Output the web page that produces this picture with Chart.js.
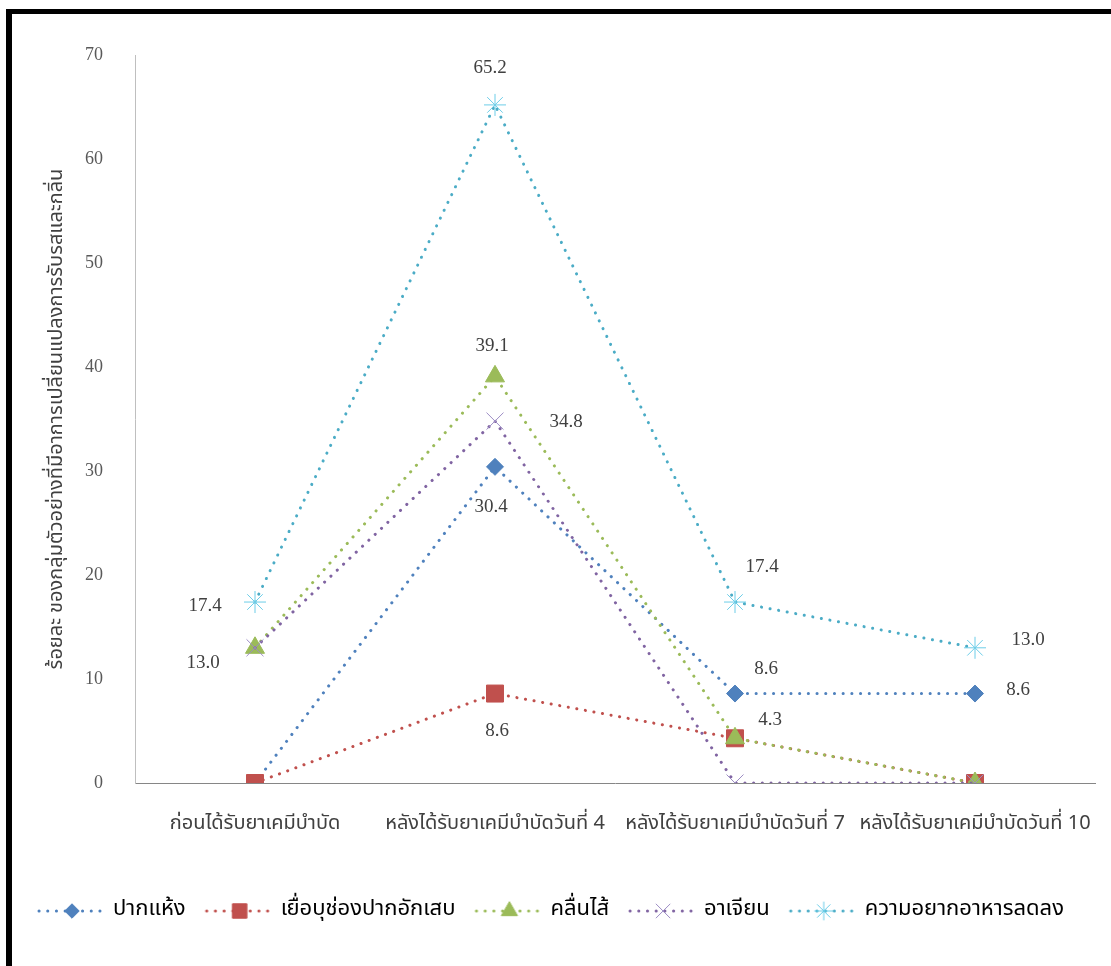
<!DOCTYPE html>
<html lang="th">
<head>
<meta charset="utf-8">
<title>อาการเปลี่ยนแปลงการรับรสและกลิ่น</title>
<script src="https://cdn.jsdelivr.net/npm/chart.js@4.4.1/dist/chart.umd.min.js"></script>
<style>
  html, body { margin: 0; padding: 0; background: #ffffff; }
  #frame { position: relative; width: 1111px; height: 966px; overflow: hidden; }
  #chart { position: absolute; left: 0; top: 0; }
  .edge { position: absolute; background: #000; }
  #edgeTop { left: 6px; top: 9px; width: 1105px; height: 5px; }
  #edgeLeft { left: 6px; top: 9px; width: 6px; height: 957px; }
</style>
</head>
<body>
<div id="frame">
  <canvas id="chart" width="1111" height="966"></canvas>
  <div class="edge" id="edgeTop"></div>
  <div class="edge" id="edgeLeft"></div>
</div>
<script>
// Time points after chemotherapy
const categories = [
  'ก่อนได้รับยาเคมีบำบัด',
  'หลังได้รับยาเคมีบำบัดวันที่ 4',
  'หลังได้รับยาเคมีบำบัดวันที่ 7',
  'หลังได้รับยาเคมีบำบัดวันที่ 10'
];

// Series names
const seriesNames = ['ปากแห้ง', 'เยื่อบุช่องปากอักเสบ', 'คลื่นไส้', 'อาเจียน', 'ความอยากอาหารลดลง'];

// Percentages per symptom (one value per time point)
const dryMouth    = [0, 30.4, 8.6, 8.6];
const mucositis   = [0, 8.6, 4.3, 0];
const nausea      = [13.0, 39.1, 4.3, 0];
const vomiting    = [13.0, 34.8, 0, 0];
const lowAppetite = [17.4, 65.2, 17.4, 13.0];

// Y axis ticks
const yTicks = [0, 10, 20, 30, 40, 50, 60, 70];

const yTitle = 'ร้อยละ ของกลุ่มตัวอย่างที่มีอาการเปลี่ยนแปลงการรับรสและกลิ่น';

const THAI = '"Noto Sans Thai", "Noto Serif Thai", "TH Sarabun New", Garuda, Loma, "Noto Sans", sans-serif';
const NUM = '"Liberation Serif", "Times New Roman", serif';

const seriesValues = [dryMouth, mucositis, nausea, vomiting, lowAppetite];
const seriesStyle = [
  { color: '#4F81BD', marker: 'rectRot',  radius: 8.5, markerLine: 1, fill: true },
  { color: '#C0504D', marker: 'rect',     radius: 12,  markerLine: 1, fill: true },
  { color: '#9BBB59', marker: 'triangle', radius: 11,  markerLine: 1, fill: true },
  { color: '#8064A2', marker: 'crossRot', radius: 12,  markerLine: 1, fill: false, markerColor: '#9C8CC4' },
  { color: '#4BACC6', marker: 'star',     radius: 11,  markerLine: 1, fill: false, markerColor: '#6CCDE8' }
];

const DOTS = [0.1, 8.6];

// Where each value label sits relative to its point (dx, dy); null = not labelled
const labelOffsets = [
  [null, [-4, 40], [31, -25], [43, -4]],
  [null, [2, 37], null, null],
  [[-52, 15], [-3, -30], [35, -18], null],
  [null, [71, 1], null, null],
  [[-50, 4], [-5, -37], [27, -35], [53, -8]]
];

// Legend swatch: dotted line with the series marker in the middle
function legendSwatch(style) {
  const c = document.createElement('canvas');
  c.width = 70; c.height = 26;
  const g = c.getContext('2d');
  g.strokeStyle = style.color;
  g.lineWidth = 3;
  g.lineCap = 'round';
  g.setLineDash(DOTS);
  g.beginPath(); g.moveTo(3, 13); g.lineTo(68, 13); g.stroke();
  g.setLineDash([]);
  g.lineCap = 'butt';
  g.lineWidth = style.markerLine;
  g.fillStyle = style.fill ? style.color : (style.markerColor || style.color);
  g.strokeStyle = style.markerColor || style.color;
  Chart.helpers.drawPoint(g, {
    pointStyle: style.marker, radius: style.radius * 0.85, rotation: 0, borderWidth: style.markerLine
  }, 36, 13);
  return c;
}

const datasets = seriesNames.map((name, k) => {
  const s = seriesStyle[k];
  return {
    label: name,
    data: seriesValues[k],
    borderColor: s.color,
    borderWidth: 3,
    borderDash: DOTS,
    borderCapStyle: 'round',
    pointStyle: s.marker,
    pointRadius: s.radius,
    pointHoverRadius: s.radius,
    pointBackgroundColor: s.fill ? s.color : (s.markerColor || s.color),
    pointBorderColor: s.markerColor || s.color,
    pointBorderWidth: s.markerLine,
    tension: 0,
    fill: false,
    order: seriesNames.length - k
  };
});

const valueLabels = {
  id: 'valueLabels',
  afterDatasetsDraw(chart) {
    const ctx = chart.ctx;
    ctx.save();
    ctx.font = '19px ' + NUM;
    ctx.fillStyle = '#404040';
    ctx.textAlign = 'center';
    ctx.textBaseline = 'middle';
    labelOffsets.forEach((row, ds) => {
      const meta = chart.getDatasetMeta(ds);
      row.forEach((off, i) => {
        if (!off) return;
        const p = meta.data[i];
        ctx.fillText(seriesValues[ds][i].toFixed(1), p.x + off[0], p.y + off[1]);
      });
    });
    ctx.restore();
  }
};

new Chart(document.getElementById('chart'), {
  type: 'line',
  data: { labels: categories, datasets },
  options: {
    responsive: false,
    animation: false,
    events: [],
    layout: { padding: { left: 18, top: 55, right: 16, bottom: 34 } },
    plugins: {
      tooltip: { enabled: false },
      legend: {
        position: 'bottom',
        align: 'start',
        labels: {
          usePointStyle: true,
          pointStyleWidth: 62,
          padding: 22,
          color: '#404040',
          font: { family: THAI, size: 22 },
          sort: (a, b) => a.datasetIndex - b.datasetIndex,
          generateLabels(chart) {
            return chart.data.datasets.map((d, k) => ({
              text: d.label,
              pointStyle: legendSwatch(seriesStyle[k]),
              fillStyle: seriesStyle[k].color,
              strokeStyle: seriesStyle[k].color,
              lineWidth: 0,
              hidden: false,
              datasetIndex: k
            }));
          }
        }
      }
    },
    scales: {
      x: {
        offset: true,
        grid: { display: false, offset: true },
        border: { display: true, color: '#868686', width: 1 },
        ticks: {
          color: '#404040',
          font: { family: THAI, size: 20 },
          padding: 22,
          autoSkip: false,
          maxRotation: 0
        },
        afterFit(scale) {
          scale.height = 95;
          scale.paddingLeft = 0;
          scale.paddingRight = 0;
        }
      },
      y: {
        min: 0,
        max: 70,
        grid: { display: false },
        border: { display: true, color: '#BFBFBF', width: 1 },
        afterBuildTicks(scale) { scale.ticks = yTicks.map(v => ({ value: v })); },
        ticks: {
          color: '#595959',
          font: { family: NUM, size: 18 },
          padding: 24
        },
        title: {
          display: true,
          text: yTitle,
          color: '#404040',
          font: { family: THAI, size: 20 },
          padding: { top: 28, bottom: 0 }
        },
        afterFit(scale) { scale.width = 117; }
      }
    }
  },
  plugins: [valueLabels]
});
</script>
</body>
</html>
